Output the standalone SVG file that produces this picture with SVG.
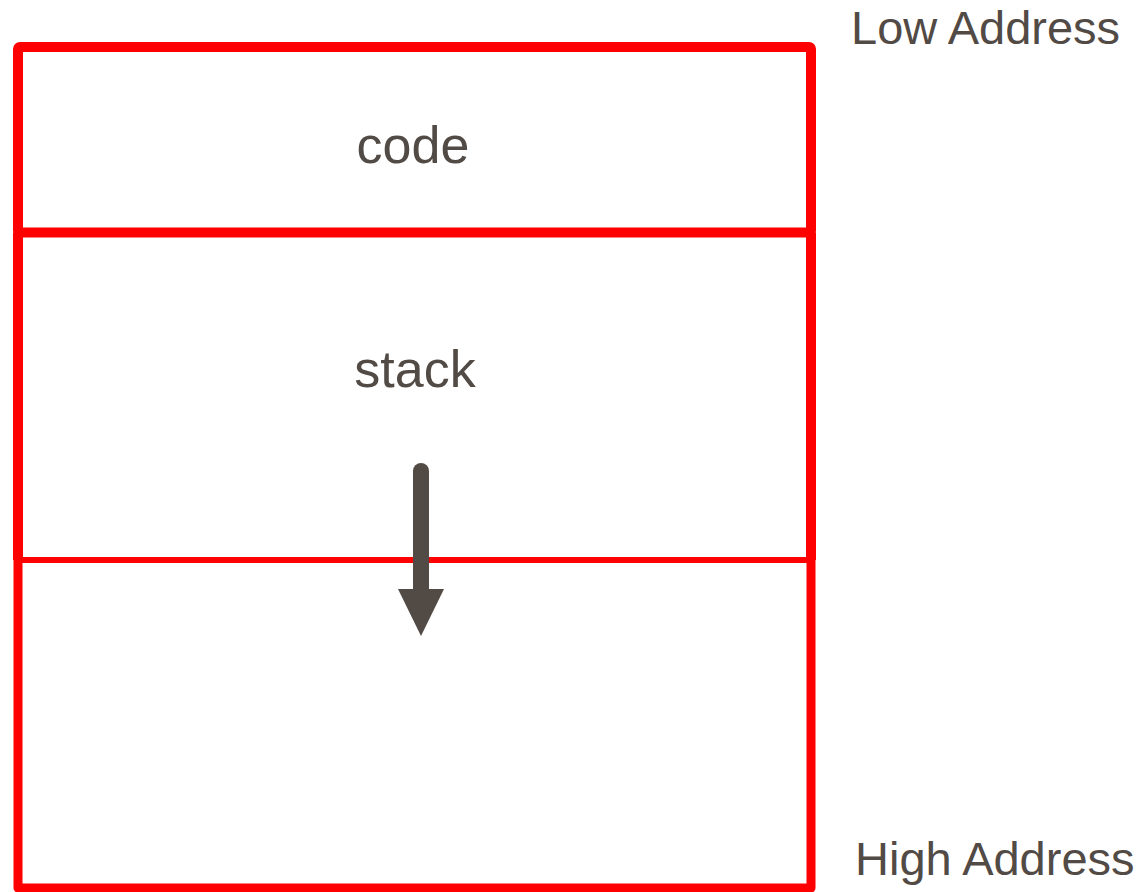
<svg xmlns="http://www.w3.org/2000/svg" width="1145" height="892" viewBox="0 0 1145 892">
<style>
.box{fill:none;stroke:#ff0000;stroke-linejoin:round}
.lbl{font-family:"Liberation Sans",Arial,sans-serif;fill:#524a45}
.arrow{fill:#524a45;stroke:#524a45}
</style>
<rect width="1145" height="892" fill="#ffffff"/>
<g id="code">
<rect class="box" x="18" y="47" width="793" height="185.5" stroke-width="10" rx="2"/>
<text class="lbl" x="413" y="162.5" font-size="52" text-anchor="middle">code</text>
</g>
<g id="stack">
<path class="box" d="M18,232.5 V560 M811,232.5 V560" stroke-width="10"/>
<line x1="18" y1="560" x2="811" y2="560" stroke="#ff0000" stroke-width="6"/>
<text class="lbl" x="415" y="386.5" font-size="52" text-anchor="middle">stack</text>
</g>
<g id="free">
<path class="box" d="M18,560 V888 H811 V560" stroke-width="9"/>
</g>
<g id="labels">
<text class="lbl" x="851" y="43.5" font-size="47">Low Address</text>
<text class="lbl" x="855" y="875" font-size="47">High Address</text>
</g>
<g id="connectors">
<line class="arrow" x1="421" y1="471" x2="421" y2="591" stroke-width="16" stroke-linecap="round"/>
<path class="arrow" d="M398,589 L444,589 L421,636 Z" stroke-width="0"/>
</g>
</svg>
